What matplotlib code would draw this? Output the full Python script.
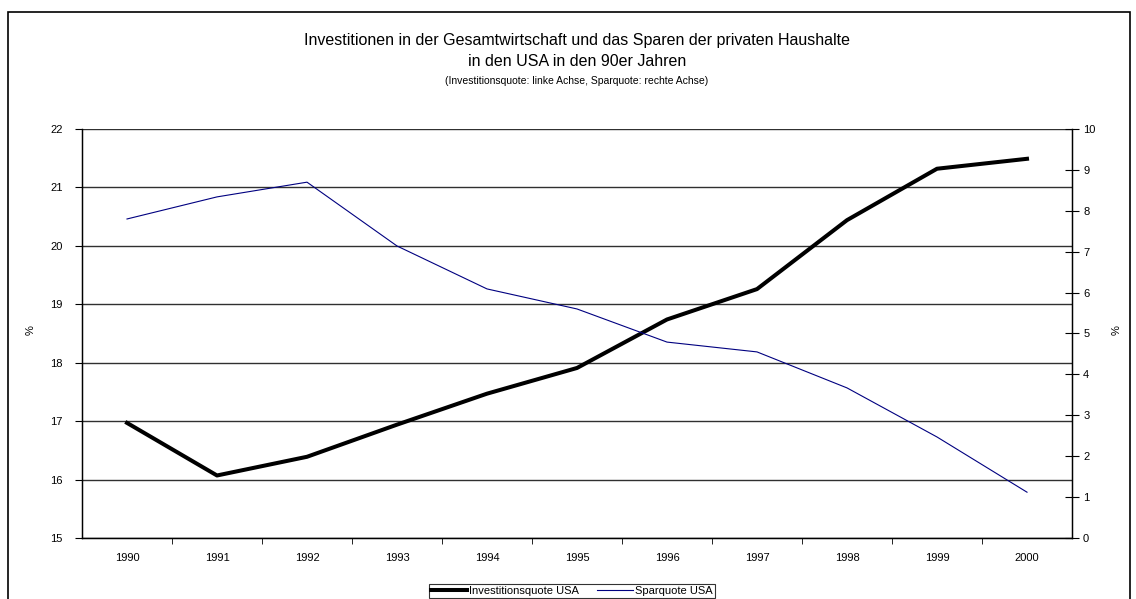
import matplotlib
matplotlib.use("Agg")
import matplotlib.pyplot as plt
from matplotlib.patches import Rectangle

plt.rcParams['font.family'] = ['Liberation Sans', 'DejaVu Sans']

years = ['1990', '1991', '1992', '1993', '1994', '1995',
         '1996', '1997', '1998', '1999', '2000']
investitionsquote = [16.97, 16.07, 16.39, 16.94, 17.47, 17.91,
                     18.74, 19.26, 20.44, 21.32, 21.49]
sparquote = [7.80, 8.34, 8.70, 7.14, 6.09, 5.60,
             4.79, 4.55, 3.67, 2.47, 1.12]

title_1 = 'Investitionen in der Gesamtwirtschaft und das Sparen der privaten Haushalte'
title_2 = 'in den USA in den 90er Jahren'
title_3 = '(Investitionsquote: linke Achse, Sparquote: rechte Achse)'


def plot_chart():
    fig = plt.figure(figsize=(11.36, 5.99), dpi=100)
    ax = fig.add_axes([82 / 1136, 1 - 538 / 599, 990 / 1136, 409 / 599])
    ax2 = ax.twinx()

    x = list(range(len(years)))
    l1, = ax.plot(x, investitionsquote, color='black', lw=2.9,
                  label='Investitionsquote USA')
    l2, = ax2.plot(x, sparquote, color='#000080', lw=0.8,
                   label='Sparquote USA')

    ax.set_xlim(-0.5, len(years) - 0.5)
    ax.set_ylim(15, 22)
    ax.set_yticks(range(15, 23))
    ax2.set_ylim(0, 10)
    ax2.set_yticks(range(0, 11))

    ax.set_xticks(x)
    ax.set_xticklabels(years)
    ax.set_xticks([i + 0.5 for i in x[:-1]], minor=True)
    ax.tick_params(axis='x', which='major', length=0, pad=11, labelsize=8)
    ax.tick_params(axis='x', which='minor', length=4, direction='out')
    ax.tick_params(axis='y', length=5, direction='out', labelsize=8, pad=9)
    ax2.tick_params(axis='y', length=10, direction='inout', labelsize=8, pad=3)

    ax.yaxis.grid(True, color='#303030', lw=1.0)
    ax.set_axisbelow(True)

    for a in (ax, ax2):
        a.spines['top'].set_visible(False)
    ax.spines['left'].set_linewidth(1.0)
    ax.spines['bottom'].set_linewidth(1.0)
    ax2.spines['right'].set_linewidth(1.0)

    fig.text(31 / 1136, 1 - 330 / 599, '%', rotation=90, fontsize=8,
             ha='center', va='center')
    fig.text(1117 / 1136, 1 - 330 / 599, '%', rotation=90, fontsize=8,
             ha='center', va='center')

    cx = 577 / 1136
    fig.text(cx, 1 - 40 / 599, title_1, fontsize=11.5, ha='center', va='center')
    fig.text(cx, 1 - 61 / 599, title_2, fontsize=11.5, ha='center', va='center')
    fig.text(cx, 1 - 81 / 599, title_3, fontsize=7.5, ha='center', va='center')

    leg = fig.legend([l1, l2], [l1.get_label(), l2.get_label()],
                     loc='upper center', bbox_to_anchor=(572 / 1136, 1 - 584 / 599),
                     ncol=2, fontsize=8, frameon=True, fancybox=False,
                     borderpad=0.2, handlelength=3.2, handletextpad=0.25,
                     columnspacing=1.6, borderaxespad=0)
    leg.get_frame().set_edgecolor('black')
    leg.get_frame().set_linewidth(0.8)

    fig.patches.append(Rectangle((8 / 1136, -0.05), 1122 / 1136, 1.05 - 12 / 599,
                                 transform=fig.transFigure, fill=False,
                                 edgecolor='black', lw=1.2))

    fig.savefig('out.png', dpi=100)


def main():
    plot_chart()


if __name__ == "__main__":
    main()
